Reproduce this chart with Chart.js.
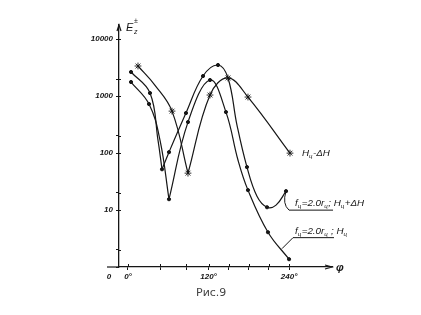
<!DOCTYPE html>
<html><head><meta charset="utf-8">
<script src="https://cdn.jsdelivr.net/npm/chart.js@4.4.1/dist/chart.umd.min.js"></script>
<style>html,body{margin:0;padding:0;background:#fff;}#wrap{width:421px;height:315px;}</style>
</head><body><div id="wrap"><canvas id="c" width="421" height="315"></canvas></div>
<script>
// ---- data (x: angle in degrees, y: E value, log scale) ----
const seriesLabels = ["H_{ц}-ΔH", "f_{ц}=2.0r_{ц}; H_{ц}+ΔH", "f_{ц}=2.0r_{ц} ; H_{ц}"];

// traced curve points
const curveMinusDH = [[14.9,3390],[40,1570],[65.6,547],[89.4,44.5],[122.2,1048],[149,2090],[178.8,966],[241.4,100]];
const curvePlusDH  = [[4.5,2660],[32.8,1135],[44.7,169],[50.7,52],[61.1,104],[86.4,506],[111.8,2260],[134.1,3530],[149,2090],[162.4,311],[177.3,56.8],[192.2,17.5],[207.2,11.2],[220.6,12.2],[235.5,21.5]];
const curveBase    = [[4.5,1775],[31.3,728],[47.7,169],[61.1,15.5],[89.4,351],[122.2,1923],[146,526],[164,75],[178.8,22.4],[208.6,4.08],[240,1.37]];
// angles of the sharp minima (cusps) of each curve
const cuspsMinusDH = [89.4];
const cuspsPlusDH  = [50.7];
const cuspsBase    = [61.1];

// marker points
const markersMinusDH = [[14.9,3390],[65.6,547],[89.4,44.5],[122.2,1048],[149,2090],[178.8,966],[241.4,100]];
const markersPlusDH  = [[4.5,2660],[32.8,1135],[50.7,52],[61.1,104],[86.4,506],[111.8,2260],[134.1,3530],[177.3,56.8],[207.2,11.2],[235.5,21.5]];
const markersBase    = [[4.5,1775],[31.3,728],[61.1,15.5],[89.4,351],[122.2,1923],[146,526],[178.8,22.4],[208.6,4.08],[240,1.37]];

const xTickValues = [0, 48, 87, 120, 150, 180, 210, 240];
const xTickLabels = ["0°", "", "", "120°", "", "", "", "240°"];
const yTickValues = [1, 2, 10, 20, 100, 200, 1000, 2000, 10000];
const yTickLabels = ["", "", "10", "", "100", "", "1000", "", "10000"];
const axisTitleY = "E";
const axisTitleX = "φ";
const originLabel = "0";
const caption = "Рис.9";

// ---- helpers ----
const toXY = a => a.map(p => ({x: p[0], y: p[1]}));
const INK = '#161616';
const tickFont = {family: 'Liberation Sans', size: 8, style: 'italic', weight: 'bold'};

function splitAt(curve, cusps) {
  const segs = []; let cur = [];
  for (const p of curve) {
    cur.push(p);
    if (cusps.includes(p[0])) { segs.push(cur); cur = [p]; }
  }
  if (cur.length > 1) segs.push(cur);
  return segs;
}
function parseRich(s) {
  const parts = []; const re = /_\{([^}]*)\}/g; let last = 0, m;
  while ((m = re.exec(s))) {
    if (m.index > last) parts.push({t: s.slice(last, m.index), sub: false});
    parts.push({t: m[1], sub: true}); last = re.lastIndex;
  }
  if (last < s.length) parts.push({t: s.slice(last), sub: false});
  return parts;
}
function drawRich(ctx, s, x, y, size) {
  let cx = x;
  for (const p of parseRich(s)) {
    const fs = p.sub ? size * 0.62 : size;
    ctx.font = `italic ${fs}px "Liberation Sans"`;
    ctx.fillText(p.t, cx, p.sub ? y + size * 0.28 : y);
    cx += ctx.measureText(p.t).width + (p.sub ? 0.5 : 0);
  }
  return cx;
}

const annot = {
  id: 'annot',
  afterDraw(chart) {
    const {ctx, chartArea: a, scales: {x, y}} = chart;
    ctx.save();
    ctx.strokeStyle = INK; ctx.fillStyle = INK; ctx.lineWidth = 1.2;
    ctx.beginPath(); ctx.moveTo(a.left - 12, a.bottom); ctx.lineTo(a.left, a.bottom); ctx.stroke();
    // tick marks crossing the axes
    ctx.lineWidth = 1;
    ctx.beginPath();
    for (const v of xTickValues) { const px = Math.round(x.getPixelForValue(v)) + 0.5; ctx.moveTo(px, a.bottom - 3); ctx.lineTo(px, a.bottom); }
    for (const v of yTickValues) { if (v <= 1) continue; const py = Math.round(y.getPixelForValue(v)) + 0.5; ctx.moveTo(a.left, py); ctx.lineTo(a.left + 2, py); }
    ctx.stroke();
    ctx.lineWidth = 1.2;
    ctx.beginPath();
    ctx.moveTo(a.left - 2, a.top + 6); ctx.lineTo(a.left, a.top); ctx.lineTo(a.left + 2, a.top + 6);
    ctx.moveTo(a.right - 7, a.bottom - 2); ctx.lineTo(a.right, a.bottom); ctx.lineTo(a.right - 7, a.bottom + 2);
    ctx.stroke();
    ctx.textBaseline = 'middle'; ctx.textAlign = 'left';
    ctx.font = 'italic 11px "Liberation Sans"';
    ctx.fillText(axisTitleY, a.left + 7, a.top + 3);
    ctx.font = 'italic 7px "Liberation Sans"';
    ctx.fillText('±', a.left + 15, a.top - 4);
    ctx.fillText('z', a.left + 15, a.top + 7);
    ctx.font = 'italic bold 11px "Liberation Sans"';
    ctx.fillText(axisTitleX, a.right + 4, a.bottom + 1);
    ctx.font = 'italic bold 8px "Liberation Sans"';
    ctx.textAlign = 'center';
    ctx.fillText(originLabel, a.left - 10, a.bottom + 10);
    ctx.font = '11px "DejaVu Sans"'; ctx.fillStyle = '#444';
    ctx.fillText(caption, x.getPixelForValue(124), 293);
    ctx.fillStyle = INK; ctx.textAlign = 'left';
    const e0 = markersMinusDH[markersMinusDH.length - 1];
    drawRich(ctx, seriesLabels[0], x.getPixelForValue(e0[0]) + 12, y.getPixelForValue(e0[1]), 9.8);
    const e1 = markersPlusDH[markersPlusDH.length - 1];
    const px1 = x.getPixelForValue(e1[0]), py1 = y.getPixelForValue(e1[1]);
    ctx.lineWidth = 1;
    ctx.beginPath(); ctx.moveTo(px1, py1);
    ctx.quadraticCurveTo(px1 - 4, py1 + 13, px1 + 3, py1 + 19);
    ctx.lineTo(px1 + 47, py1 + 19); ctx.stroke();
    drawRich(ctx, seriesLabels[1], px1 + 9, py1 + 12, 9.8);
    const sx = x.getPixelForValue(229.5), sy = y.getPixelForValue(2.1);
    ctx.beginPath(); ctx.moveTo(sx, sy); ctx.lineTo(sx + 11, sy - 11); ctx.lineTo(sx + 52, sy - 11); ctx.stroke();
    drawRich(ctx, seriesLabels[2], sx + 13, sy - 17, 9.8);
    ctx.restore();
  }
};

const lineDs = (d) => ({type: 'line', data: toXY(d), borderColor: INK, borderWidth: 1.2, pointRadius: 0,
  tension: 0.4, fill: false});
const markDs = (d, style, r, bw) => ({type: 'line', data: toXY(d), showLine: false, pointStyle: style, pointRadius: r,
  borderColor: INK, backgroundColor: INK, pointBorderWidth: bw});

const datasets = [
  ...splitAt(curveMinusDH, cuspsMinusDH).map(lineDs),
  ...splitAt(curvePlusDH, cuspsPlusDH).map(lineDs),
  ...splitAt(curveBase, cuspsBase).map(lineDs),
  markDs(markersMinusDH, 'star', 3.4, 0.9), markDs(markersPlusDH, 'circle', 1.6, 1), markDs(markersBase, 'circle', 1.6, 1)
];

new Chart(document.getElementById('c'), {
  type: 'line',
  data: {datasets},
  options: {
    responsive: false, animation: false, devicePixelRatio: 1,
    layout: {padding: {left: 0, top: 25, right: 89, bottom: 0}},
    plugins: {legend: {display: false}, tooltip: {enabled: false}},
    scales: {
      x: {type: 'linear', min: -13.4, max: 304,
        afterFit(s) { s.height = 48; },
        afterBuildTicks(s) { s.ticks = xTickValues.map(v => ({value: v})); },
        ticks: {autoSkip: false, maxRotation: 0, padding: 2, color: INK, font: tickFont,
          callback: (v) => xTickLabels[xTickValues.indexOf(v)] ?? ''},
        grid: {drawOnChartArea: false, tickLength: 3, color: INK, lineWidth: 1},
        border: {color: INK, width: 1.3}},
      y: {type: 'logarithmic', min: 1, max: 17800,
        afterFit(s) { s.width = 119; },
        afterBuildTicks(s) { s.ticks = yTickValues.map(v => ({value: v})); },
        ticks: {autoSkip: false, padding: 3, color: INK, font: tickFont,
          callback: (v) => { const i = yTickValues.findIndex(t => Math.abs(t - v) < 1e-6 * t); return i >= 0 ? yTickLabels[i] : ''; }},
        grid: {drawOnChartArea: false, tickLength: 3, color: INK, lineWidth: 1},
        border: {color: INK, width: 1.3}}
    }
  },
  plugins: [annot]
});
</script></body></html>
